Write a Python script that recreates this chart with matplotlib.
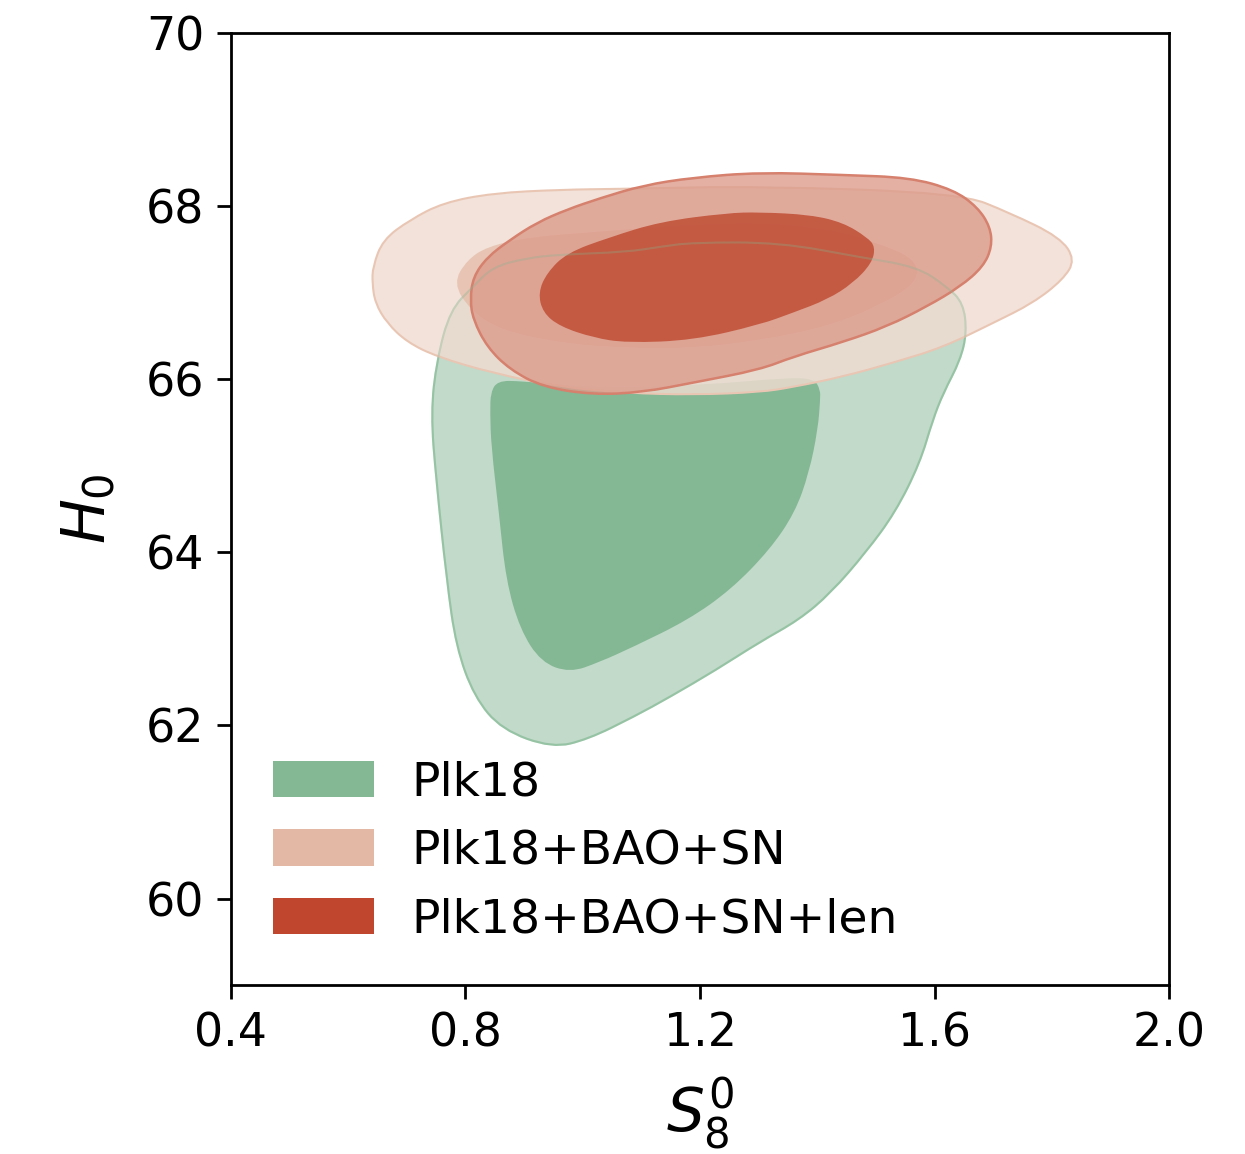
import matplotlib
matplotlib.use("Agg")
import matplotlib.pyplot as plt
from matplotlib.patches import Patch, PathPatch
from matplotlib.path import Path

# contour outlines, (S8^0, H0)
plk_outer_s8 = [0.741, 0.750, 0.768, 0.784, 0.815, 0.862, 0.948, 1.009, 1.087, 1.149,
                1.227, 1.301, 1.369, 1.423, 1.483, 1.533, 1.575, 1.597, 1.615, 1.644,
                1.655, 1.649, 1.621, 1.570, 1.473, 1.336, 1.188, 1.132, 1.075, 0.961,
                0.905, 0.847, 0.813, 0.774, 0.751]
plk_outer_h0 = [65.61, 64.84, 63.68, 62.91, 62.33, 61.95, 61.74, 61.84, 62.10, 62.33,
                62.64, 62.96, 63.22, 63.53, 64.00, 64.46, 65.03, 65.53, 65.84, 66.22,
                66.54, 66.88, 67.07, 67.30, 67.41, 67.58, 67.58, 67.53, 67.47, 67.44,
                67.40, 67.30, 67.07, 66.80, 66.22]

plk_inner_s8 = [0.842, 0.844, 0.857, 0.869, 0.893, 0.929, 0.978, 1.028, 1.087, 1.180,
                1.253, 1.319, 1.362, 1.386, 1.401, 1.405, 1.405, 1.395, 1.354, 1.200,
                1.029, 0.893, 0.855, 0.843]
plk_inner_h0 = [65.61, 65.22, 64.46, 63.68, 63.11, 62.73, 62.61, 62.73, 62.91, 63.22,
                63.57, 64.03, 64.46, 64.92, 65.42, 65.76, 65.88, 66.00, 66.02, 65.93,
                65.90, 65.98, 65.98, 65.85]

bs_outer_s8 = [0.642, 0.659, 0.705, 0.762, 0.847, 0.961, 1.075, 1.302, 1.644, 1.729,
               1.814, 1.840, 1.819, 1.768, 1.700, 1.615, 1.529, 1.444, 1.359, 1.302,
               1.188, 1.075, 0.961, 0.847, 0.751, 0.700, 0.666, 0.646, 0.641]
bs_outer_h0 = [67.30, 67.61, 67.84, 68.04, 68.15, 68.19, 68.20, 68.23, 68.15, 67.92,
               67.64, 67.38, 67.15, 66.88, 66.65, 66.37, 66.19, 66.03, 65.91, 65.85,
               65.82, 65.84, 65.91, 66.07, 66.26, 66.43, 66.65, 66.88, 67.11]

bs_inner_s8 = [0.779, 0.803, 0.837, 0.905, 1.018, 1.132, 1.302, 1.417, 1.502, 1.570,
               1.570, 1.502, 1.417, 1.302, 1.188, 1.075, 0.961, 0.859, 0.808]
bs_inner_h0 = [67.11, 67.38, 67.53, 67.64, 67.70, 67.76, 67.81, 67.73, 67.58, 67.38,
               67.11, 66.84, 66.61, 66.45, 66.36, 66.36, 66.42, 66.57, 66.80]

len_outer_s8 = [0.808, 0.813, 0.837, 0.876, 0.922, 0.973, 1.029, 1.103, 1.188, 1.302,
                1.444, 1.558, 1.632, 1.673, 1.695, 1.698, 1.683, 1.644, 1.587, 1.519,
                1.444, 1.359, 1.302, 1.188, 1.103, 1.018, 0.932, 0.876, 0.837, 0.813]
len_outer_h0 = [66.92, 67.18, 67.41, 67.61, 67.81, 67.96, 68.09, 68.24, 68.33, 68.39,
                68.36, 68.33, 68.19, 67.99, 67.76, 67.53, 67.30, 67.07, 66.84, 66.61,
                66.43, 66.26, 66.11, 65.96, 65.85, 65.82, 65.91, 66.11, 66.37, 66.69]

len_inner_s8 = [0.924, 0.939, 0.973, 1.046, 1.132, 1.246, 1.302, 1.388, 1.444, 1.485,
                1.499, 1.493, 1.461, 1.417, 1.359, 1.302, 1.188, 1.075, 1.018, 0.961,
                0.932]
len_inner_h0 = [67.00, 67.23, 67.46, 67.64, 67.82, 67.92, 67.93, 67.90, 67.81, 67.64,
                67.53, 67.34, 67.11, 66.92, 66.77, 66.63, 66.45, 66.42, 66.48, 66.61,
                66.77]

labels = ["Plk18", "Plk18+BAO+SN", "Plk18+BAO+SN+len"]
colors = ["#84b794", "#e3b8a4", "#c0462e"]


def smooth_path(xs, ys):
    """closed quadratic-bezier path using the outline points as control points"""
    pts = list(zip(xs, ys))
    n = len(pts)
    mid = lambda a, b: ((a[0] + b[0]) / 2, (a[1] + b[1]) / 2)
    verts = [mid(pts[0], pts[1])]
    codes = [Path.MOVETO]
    for i in range(1, n + 1):
        p = pts[i % n]
        q = pts[(i + 1) % n]
        verts += [p, mid(p, q)]
        codes += [Path.CURVE3, Path.CURVE3]
    return Path(verts, codes)


def region(ax, xs, ys, fc, alpha, ec=None, lw=0):
    path = smooth_path(xs, ys)
    ax.add_patch(PathPatch(path, facecolor=fc, alpha=alpha, edgecolor="none"))
    if ec is not None:
        ax.add_patch(PathPatch(path, facecolor="none", edgecolor=ec, lw=lw))


fig = plt.figure(figsize=(12.45, 11.54), dpi=100)
ax = fig.add_axes([0.1855, 0.1464, 0.7535, 0.825])

# Plk18
region(ax, plk_outer_s8, plk_outer_h0, colors[0], 0.5, "#9fc9ac", 1.5)
region(ax, plk_inner_s8, plk_inner_h0, colors[0], 1.0)

# Plk18+BAO+SN
region(ax, bs_outer_s8, bs_outer_h0, "#f0dcd1", 0.82, "#e9c6b4", 1.5)
region(ax, bs_inner_s8, bs_inner_h0, colors[1], 0.7)

# Plk18+BAO+SN+len
region(ax, len_outer_s8, len_outer_h0, "#dc9c8c", 0.8, "#d6806e", 1.8)
region(ax, len_inner_s8, len_inner_h0, "#c04d34", 0.85)

# faint Plk18 outline showing through the later layers
ax.add_patch(PathPatch(smooth_path(plk_outer_s8, plk_outer_h0), facecolor="none",
                       edgecolor="#84b794", lw=1.5, alpha=0.3))

ax.set_xlim(0.4, 2.0)
ax.set_ylim(59, 70)
ax.set_xticks([0.4, 0.8, 1.2, 1.6, 2.0])
ax.set_xticklabels(["0.4", "0.8", "1.2", "1.6", "2.0"])
ax.set_yticks([60, 62, 64, 66, 68, 70])
ax.tick_params(labelsize=33, length=10, width=2, pad=9)
for sp in ax.spines.values():
    sp.set_linewidth(2)

ax.set_xlabel(r"$S_8^0$", fontsize=43, labelpad=14)
ax.set_ylabel(r"$H_0$", fontsize=43, labelpad=20)

handles = [Patch(facecolor=c, edgecolor="none") for c in colors]
ax.legend(handles, labels, loc="lower left", fontsize=34, frameon=False,
          handlelength=2.13, handleheight=0.8, handletextpad=0.8,
          labelspacing=0.5, borderaxespad=0.5, bbox_to_anchor=(0, 0))

fig.savefig("out.png", dpi=100)
